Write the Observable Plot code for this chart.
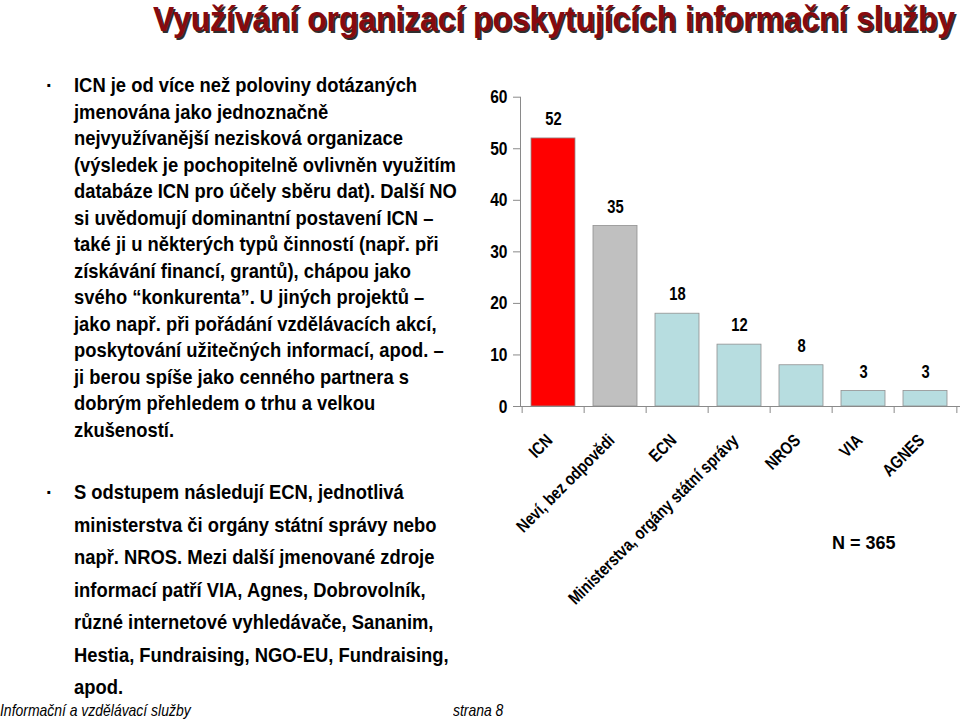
<!DOCTYPE html>
<html>
<head>
<meta charset="utf-8">
<script src="https://cdn.jsdelivr.net/npm/d3@7"></script>
<script src="https://cdn.jsdelivr.net/npm/@observablehq/plot@0.6"></script>
<style>
  html, body { margin: 0; padding: 0; background: #fff; }
  #page { position: relative; width: 960px; height: 723px; overflow: hidden; background: #fff;
          font-family: "Liberation Sans", Arial, sans-serif; color: #000; }
  #title { position: absolute; left: 153px; top: 0px; font-size: 35px; line-height: 38px; font-weight: bold;
           color: #870a0e; text-shadow: 2px 2px 0 #2e2e2e; white-space: nowrap; transform-origin: 0 0; }
  .block { position: absolute; left: 74px; font-size: 21px; font-weight: bold; white-space: nowrap;
           transform: scaleX(0.875); transform-origin: 0 0; }
  #b1 { top: 72px; line-height: 26.5px; }
  #b2 { top: 476px; line-height: 32.5px; }
  .bullet { position: absolute; left: 46px; font-size: 20px; font-weight: bold; }
  #chart { position: absolute; left: 440px; top: 70px; }
  #n { position: absolute; left: 832px; top: 532px; font-weight: bold; font-size: 18px; line-height: 22px; white-space: nowrap; }
  .foot { position: absolute; top: 701px; font-size: 17px; font-style: italic; line-height: 20px; white-space: nowrap;
          transform: scaleX(0.82); transform-origin: 0 0; }
</style>
</head>
<body>
<div id="page">
  <div id="title">Využívání organizací poskytujících informační služby</div>
  <div class="bullet" style="top:72px;line-height:26.5px;">·</div>
  <div class="block" id="b1"></div>
  <div class="bullet" style="top:476px;line-height:32.5px;">·</div>
  <div class="block" id="b2"></div>
  <div id="chart"></div>
  <div id="n">N = 365</div>
  <div class="foot" style="left:0px;">Informační a vzdělávací služby</div>
  <div class="foot" style="left:453px;">strana 8</div>
</div>
<script>
const categories = ["ICN", "Neví, bez odpovědi", "ECN", "Ministerstva, orgány státní správy", "NROS", "VIA", "AGNES"];
const values = [52, 35, 18, 12, 8, 3, 3];
const yTicks = [0, 10, 20, 30, 40, 50, 60];

const block1Lines = [
  "ICN je od více než poloviny dotázaných",
  "jmenována jako jednoznačně",
  "nejvyužívanější nezisková organizace",
  "(výsledek je pochopitelně ovlivněn využitím",
  "databáze ICN pro účely sběru dat). Další NO",
  "si uvědomují dominantní postavení ICN –",
  "také ji u některých typů činností (např. při",
  "získávání financí, grantů), chápou jako",
  "svého “konkurenta”. U jiných projektů –",
  "jako např. při pořádání vzdělávacích akcí,",
  "poskytování užitečných informací, apod. –",
  "ji berou spíše jako cenného partnera s",
  "dobrým přehledem o trhu a velkou",
  "zkušeností."
];
const block2Lines = [
  "S odstupem následují ECN, jednotlivá",
  "ministerstva či orgány státní správy nebo",
  "např. NROS. Mezi další jmenované zdroje",
  "informací patří VIA, Agnes, Dobrovolník,",
  "různé internetové vyhledávače, Sananim,",
  "Hestia, Fundraising, NGO-EU, Fundraising,",
  "apod."
];

function fillBlock(id, lines) {
  const el = document.getElementById(id);
  lines.forEach(t => { const d = document.createElement("div"); d.textContent = t; el.appendChild(d); });
}
fillBlock("b1", block1Lines);
fillBlock("b2", block2Lines);

// fit title to the span it occupies in the slide (x 153 → 955)
const title = document.getElementById("title");
title.style.transform = `scaleX(${802 / title.getBoundingClientRect().width})`;

const data = categories.map((c, i) => ({category: c, value: values[i]}));

const W = 520, H = 540, ML = 80, MR = 1, MT = 26.7, MB = 204;
const step = (W - ML - MR) / categories.length;
const axisColor = "#8a8a8a";
const barFill = d => d.category === "ICN" ? "#ff0000" : d.category === "Neví, bez odpovědi" ? "#c0c0c0" : "#b7dde0";

const chart = Plot.plot({
  width: W, height: H,
  marginLeft: ML, marginRight: MR, marginTop: MT, marginBottom: MB,
  style: {fontFamily: "'Liberation Sans', Arial, sans-serif", fontWeight: "bold",
          fontSize: "18px", background: "transparent", color: "black", overflow: "visible"},
  x: {domain: categories, paddingInner: 0.29, paddingOuter: 0.145, axis: null},
  y: {domain: [0, 60], axis: null},
  marks: [
    Plot.barY(data, {x: "category", y: "value", fill: barFill, stroke: "#909090", strokeWidth: 0.8}),
    Plot.frame({anchor: "left", stroke: axisColor}),
    Plot.frame({anchor: "bottom", stroke: axisColor}),
    Plot.axisY({ticks: yTicks, tickSize: 7, tickPadding: 6, stroke: axisColor, fill: "black", label: null,
                fontSize: 19, tickFormat: d => String(d)}),
    Plot.ruleX(categories, {x: d => d, y1: 0, y2: -1.36, dx: -step / 2, stroke: axisColor}),
    Plot.ruleX(categories.slice(-1), {x: d => d, y1: 0, y2: -1.36, dx: step / 2, stroke: axisColor}),
    Plot.text(data, {x: "category", y: "value", text: d => String(d.value), dy: -19, fontSize: 18, fill: "black"}),
    Plot.text(categories, {x: d => d, frameAnchor: "bottom", text: d => d, rotate: -45, textAnchor: "end",
                           lineAnchor: "bottom", dy: 35, fontSize: 17.5, fill: "black"})
  ]
});
// Arial Narrow look: compress every chart text horizontally along its own baseline
chart.querySelectorAll("text").forEach(t => {
  const tr = t.getAttribute("transform") || "";
  t.setAttribute("transform", (tr + " scale(0.82,1)").trim());
});
document.getElementById("chart").appendChild(chart);
</script>
</body>
</html>
